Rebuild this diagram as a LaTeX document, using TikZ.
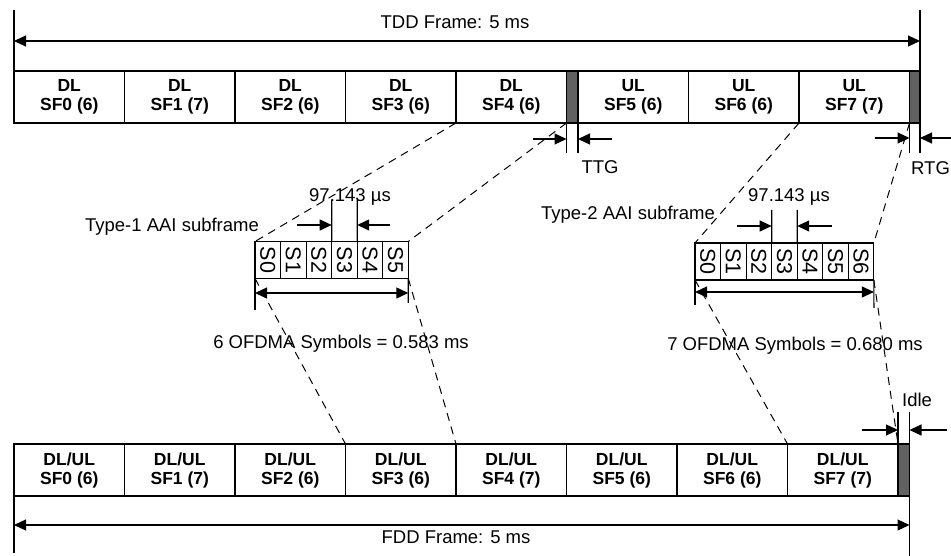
\documentclass[tikz,border=0pt]{standalone}
\usepackage{fontspec}
\setmainfont{Liberation Sans}
\usetikzlibrary{arrows.meta}
\begin{document}
\begin{tikzpicture}[x=1pt,y=-1pt,
  cell/.style={draw, line width=1.2pt, inner sep=0pt, outer sep=0pt, align=center,
    minimum height=52pt, minimum width=110.5pt,
    font=\fontsize{17.5}{19}\selectfont\bfseries},
  guard/.style={draw, line width=1.2pt, fill=black!62, inner sep=0pt, outer sep=0pt,
    minimum height=52pt, minimum width=11.5pt},
  sym/.style={draw, line width=1.2pt, inner sep=0pt, outer sep=0pt,
    minimum width=25.55pt, minimum height=37pt, font=\fontsize{21.5}{22}\selectfont},
  lbl/.style={font=\fontsize{18.5}{20}\selectfont, inner sep=0pt},
  dimarrow/.style={line width=1.2pt, {Triangle[length=12pt,width=11pt]}-{Triangle[length=12pt,width=11pt]}},
  arr/.style={line width=1.2pt, -{Triangle[length=12pt,width=11pt]}},
  vline/.style={line width=1.2pt},
  zoomline/.style={line width=1pt, dash pattern=on 8pt off 6pt}
]
\useasboundingbox (0,0) rectangle (951,556);

% ---------- TDD frame ----------
\node[cell, anchor=north west] (t0) at (14,71) {DL\\SF0 (6)};
\node[cell, anchor=west] (t1) at (t0.east) {DL\\SF1 (7)};
\node[cell, anchor=west] (t2) at (t1.east) {DL\\SF2 (6)};
\node[cell, anchor=west] (t3) at (t2.east) {DL\\SF3 (6)};
\node[cell, anchor=west] (t4) at (t3.east) {DL\\SF4 (6)};
\node[guard, anchor=west] (ttg) at (t4.east) {};
\node[cell, anchor=west] (t5) at (ttg.east) {UL\\SF5 (6)};
\node[cell, anchor=west] (t6) at (t5.east) {UL\\SF6 (6)};
\node[cell, anchor=west] (t7) at (t6.east) {UL\\SF7 (7)};
\node[guard, anchor=west, minimum width=10.5pt] (rtg) at (t7.east) {};

\draw[vline] (14,10) -- (t0.south west);
\draw[vline] (920,10) -- (920,153);
\draw[dimarrow] (14,41) -- (920,41);
\node[lbl] (tdd) at (455,22) {TDD Frame: 5 ms};

% TTG / RTG markers
\draw[vline] (t4.south east) -- (566.5,153);
\draw[vline] (ttg.south east) -- (578,153);
\draw[arr] (533,139) -- (566.5,139);
\draw[arr] (612,139) -- (578,139);
\node[lbl] (ttgl) at (600,167) {TTG};
\draw[vline] (t7.south east) -- (909.5,153);
\draw[arr] (875,138) -- (909.5,138);
\draw[arr] (955,138) -- (920,138);
\node[lbl, anchor=west] (rtgl) at (911,168) {RTG};

% ---------- Type-1 subframe ----------
\node[sym, anchor=north west] (p0) at (255,241.5) {\rotatebox{-90}{S0}};
\node[sym, anchor=west] (p1) at (p0.east) {\rotatebox{-90}{S1}};
\node[sym, anchor=west] (p2) at (p1.east) {\rotatebox{-90}{S2}};
\node[sym, anchor=west] (p3) at (p2.east) {\rotatebox{-90}{S3}};
\node[sym, anchor=west] (p4) at (p3.east) {\rotatebox{-90}{S4}};
\node[sym, anchor=west] (p5) at (p4.east) {\rotatebox{-90}{S5}};
\node[lbl] (type1) at (172,227) {Type-1 AAI subframe};

\draw[vline] (p3.north west) -- (331.65,200);
\draw[vline] (p3.north east) -- (357.2,200);
\draw[arr] (297,225) -- (331.65,225);
\draw[arr] (390,225) -- (357.2,225);
\node[lbl] (mu1) at (350,197) {97.143 µs};

\draw[vline] (p0.south west) -- (255,310);
\draw[vline] (p5.south east) -- (408.3,303);
\draw[dimarrow] (255,293) -- (408.3,293);
\node[lbl] (ofdm1) at (341,344) {6 OFDMA Symbols = 0.583 ms};

% ---------- Type-2 subframe ----------
\node[sym, anchor=north west] (q0) at (695,243) {\rotatebox{-90}{S0}};
\node[sym, anchor=west] (q1) at (q0.east) {\rotatebox{-90}{S1}};
\node[sym, anchor=west] (q2) at (q1.east) {\rotatebox{-90}{S2}};
\node[sym, anchor=west] (q3) at (q2.east) {\rotatebox{-90}{S3}};
\node[sym, anchor=west] (q4) at (q3.east) {\rotatebox{-90}{S4}};
\node[sym, anchor=west] (q5) at (q4.east) {\rotatebox{-90}{S5}};
\node[sym, anchor=west] (q6) at (q5.east) {\rotatebox{-90}{S6}};
\node[lbl] (type2) at (628,215) {Type-2 AAI subframe};

\draw[vline] (q3.north west) -- (771.65,210);
\draw[vline] (q3.north east) -- (797.2,210);
\draw[arr] (737,226) -- (771.65,226);
\draw[arr] (832,226) -- (797.2,226);
\node[lbl] (mu2) at (789,197) {97.143 µs};

\draw[vline] (q0.south west) -- (695,305);
\draw[vline] (q6.south east) -- (873.9,308);
\draw[dimarrow] (695,292) -- (873.9,292);
\node[lbl] (ofdm2) at (795,346) {7 OFDMA Symbols = 0.680 ms};

% ---------- FDD frame ----------
\node[cell, anchor=north west] (b0) at (14,444) {DL/UL\\SF0 (6)};
\node[cell, anchor=west] (b1) at (b0.east) {DL/UL\\SF1 (7)};
\node[cell, anchor=west] (b2) at (b1.east) {DL/UL\\SF2 (6)};
\node[cell, anchor=west] (b3) at (b2.east) {DL/UL\\SF3 (6)};
\node[cell, anchor=west] (b4) at (b3.east) {DL/UL\\SF4 (7)};
\node[cell, anchor=west] (b5) at (b4.east) {DL/UL\\SF5 (6)};
\node[cell, anchor=west] (b6) at (b5.east) {DL/UL\\SF6 (6)};
\node[cell, anchor=west] (b7) at (b6.east) {DL/UL\\SF7 (7)};
\node[guard, anchor=west] (idle) at (b7.east) {};

\draw[vline] (b7.north east) -- (898,412);
\draw[vline] (909.5,412) -- (909.5,556);
\draw[arr] (862,430) -- (898,430);
\draw[arr] (947,430) -- (909.5,430);
\node[lbl, anchor=west] (idlel) at (902,400) {Idle};

\draw[vline] (b0.south west) -- (14,553);
\draw[dimarrow] (14,525) -- (909.5,525);
\node[lbl] (fdd) at (456,537) {FDD Frame: 5 ms};

% ---------- zoom (dashed) lines ----------
\draw[zoomline] (t4.south west) -- (p0.north west);
\draw[zoomline] (t4.south east) -- (p5.north east);
\draw[zoomline] (p0.south west) -- (b3.north west);
\draw[zoomline] (p5.south east) -- (b3.north east);
\draw[zoomline] (t7.south west) -- (q0.north west);
\draw[zoomline] (t7.south east) -- (q6.north east);
\draw[zoomline] (q0.south west) -- (b6.north east);
\draw[zoomline] (q6.south east) -- (b7.north east);
\end{tikzpicture}
\end{document}
